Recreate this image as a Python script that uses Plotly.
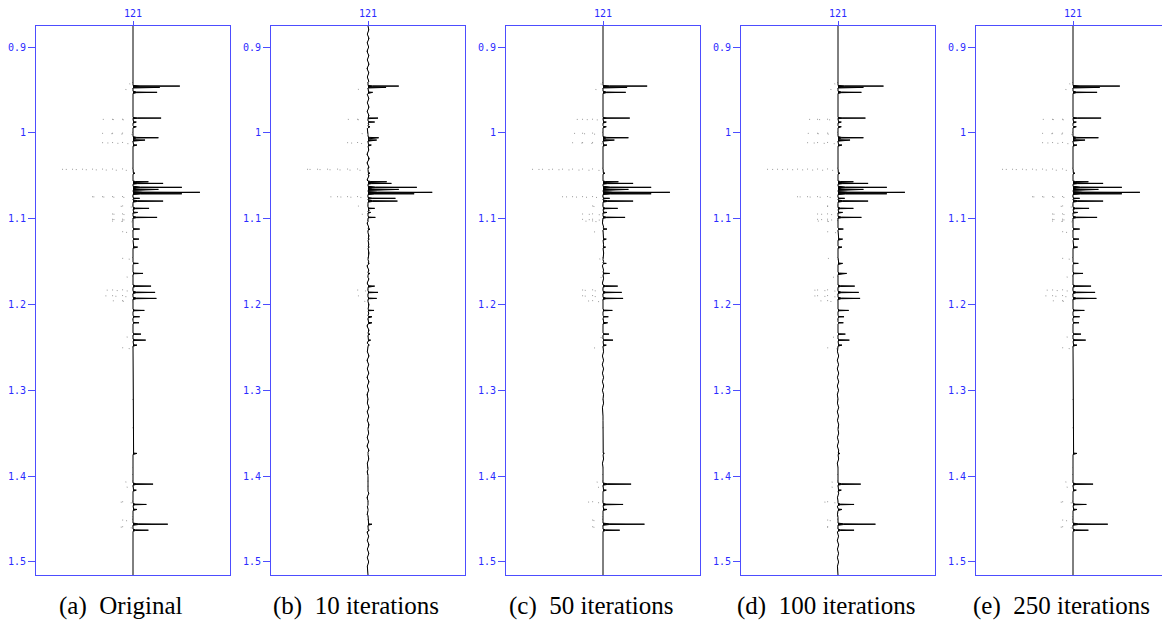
import numpy as np
import plotly.graph_objects as go

# ---------------- data ----------------
spike_times = [
    0.9423, 0.9455, 0.9470, 0.9493, 0.9528, 0.9828, 0.9843, 0.9874, 0.9929, 1.0006,
    1.0057, 1.0084, 1.0115, 1.0142, 1.0425, 1.0469, 1.0570, 1.0589, 1.0635, 1.0659,
    1.0693, 1.0710, 1.0745, 1.0763, 1.0795, 1.0853, 1.0880, 1.0927, 1.0946, 1.0985,
    1.1008, 1.1028, 1.1121, 1.1153, 1.1238, 1.1331, 1.1463, 1.1521, 1.1638, 1.1677,
    1.1786, 1.1832, 1.1859, 1.1899, 1.1929, 1.1957, 1.2069, 1.2143, 1.2182, 1.2213,
    1.2345, 1.2376, 1.2415, 1.2473, 1.2505, 1.3114, 1.3444, 1.3735, 1.3910, 1.3988,
    1.4066, 1.4093, 1.4125, 1.4163, 1.4300, 1.4330, 1.4388, 1.4474, 1.4513, 1.4560,
    1.4591, 1.4630,
]

amp_original = [
    -0.10, 0.70, 0.40, -0.13, 0.36, 0.42, -0.45, 0.05, 0.05, -0.46,
    0.38, 0.18, -0.49, 0.06, -1.10, 0.03, 0.23, 0.45, 0.73, 0.38,
    1.00, 0.73, -0.67, 0.10, 0.45, -0.24, 0.24, 0.07, -0.37, 0.36,
    -0.37, -0.31, 0.10, -0.20, 0.09, 0.07, -0.18, 0.08, 0.15, -0.12,
    0.27, -0.42, 0.33, -0.43, 0.35, -0.30, 0.17, 0.10, -0.06, 0.09,
    0.12, -0.12, 0.19, 0.06, -0.18, -0.05, -0.03, 0.06, -0.07, -0.07,
    -0.13, 0.30, -0.12, 0.05, -0.24, 0.20, 0.06, -0.06, -0.20, 0.52,
    -0.24, 0.23,
]

amp_10 = [
    -0.05, 0.46, 0.27, -0.15, 0.07, 0.15, -0.30, 0.10, 0.03, -0.12,
    0.16, 0.13, -0.35, 0.05, -0.96, 0.03, 0.28, 0.35, 0.73, 0.46,
    0.96, 0.69, -0.58, 0.41, 0.44, -0.15, 0.10, 0.04, -0.12, 0.11,
    -0.08, -0.06, 0.03, -0.04, 0.02, 0.02, -0.03, 0.02, 0.03, -0.04,
    0.10, -0.17, 0.15, -0.15, 0.13, -0.10, 0.09, 0.06, -0.03, 0.06,
    0.03, -0.03, 0.04, 0.02, -0.04, -0.01, -0.01, 0.01, -0.01, -0.01,
    -0.01, 0.01, -0.01, 0.01, -0.01, 0.01, 0.01, -0.01, -0.02, 0.06,
    -0.02, 0.02,
]

amp_50 = [
    -0.09, 0.66, 0.36, -0.13, 0.34, 0.40, -0.42, 0.05, 0.05, -0.44,
    0.38, 0.17, -0.46, 0.06, -1.08, 0.03, 0.23, 0.45, 0.72, 0.38,
    1.00, 0.72, -0.65, 0.10, 0.45, -0.22, 0.22, 0.06, -0.33, 0.33,
    -0.33, -0.28, 0.06, -0.14, 0.05, 0.04, -0.10, 0.05, 0.10, -0.09,
    0.22, -0.36, 0.28, -0.36, 0.30, -0.26, 0.14, 0.08, -0.05, 0.07,
    0.09, -0.09, 0.15, 0.05, -0.14, -0.02, -0.02, 0.02, -0.06, -0.06,
    -0.12, 0.42, -0.11, 0.05, -0.26, 0.30, 0.06, -0.06, -0.22, 0.62,
    -0.22, 0.25,
]

amp_100 = [
    -0.10, 0.68, 0.38, -0.13, 0.35, 0.41, -0.44, 0.05, 0.05, -0.45,
    0.38, 0.18, -0.48, 0.06, -1.09, 0.03, 0.23, 0.45, 0.73, 0.38,
    1.00, 0.73, -0.66, 0.10, 0.45, -0.23, 0.23, 0.07, -0.35, 0.35,
    -0.35, -0.30, 0.08, -0.17, 0.07, 0.06, -0.15, 0.07, 0.13, -0.11,
    0.25, -0.40, 0.31, -0.40, 0.33, -0.28, 0.16, 0.09, -0.06, 0.08,
    0.11, -0.11, 0.17, 0.06, -0.16, -0.03, -0.02, 0.03, -0.07, -0.07,
    -0.12, 0.34, -0.12, 0.05, -0.25, 0.24, 0.06, -0.06, -0.21, 0.56,
    -0.23, 0.24,
]

amp_250 = [
    -0.10, 0.70, 0.40, -0.13, 0.36, 0.42, -0.45, 0.05, 0.05, -0.46,
    0.38, 0.18, -0.49, 0.06, -1.10, 0.03, 0.23, 0.45, 0.73, 0.38,
    1.00, 0.73, -0.67, 0.10, 0.45, -0.24, 0.24, 0.07, -0.37, 0.36,
    -0.37, -0.31, 0.10, -0.20, 0.09, 0.07, -0.18, 0.08, 0.15, -0.12,
    0.27, -0.42, 0.33, -0.43, 0.35, -0.30, 0.17, 0.10, -0.06, 0.09,
    0.12, -0.12, 0.19, 0.06, -0.18, -0.05, -0.03, 0.06, -0.07, -0.07,
    -0.13, 0.30, -0.12, 0.05, -0.24, 0.20, 0.06, -0.06, -0.20, 0.52,
    -0.24, 0.23,
]

# small residual ringing on the baseline (start time, values every 5 ms)
ripple_10_start = 0.880
ripple_10 = [
    0.012, -0.010, 0.015, -0.012, 0.010, -0.015, 0.012, -0.010, 0.015, -0.015,
    0.012, -0.010, 0.012, -0.015, 0.015, -0.010, 0.012, -0.010, 0.015, -0.012,
    0.015, -0.015, 0.012, -0.010, 0.012, -0.015, 0.015, -0.012, 0.012, -0.015,
    0.020, -0.015, 0.015, -0.020, 0.015, -0.015, 0.012, -0.015, 0.015, -0.012,
    0.015, -0.020, 0.020, -0.015, 0.015, -0.015, 0.012, -0.012, 0.015, -0.015,
    0.012, -0.010, 0.015, -0.012, 0.010, -0.015, 0.012, -0.010, 0.015, -0.012,
    0.010, -0.015, 0.012, -0.010, 0.015, -0.015, 0.012, -0.010, 0.010, -0.015,
    0.015, -0.010, 0.010, -0.012, 0.015, -0.010, 0.015, -0.015, 0.010, -0.010,
    0.012, -0.015, 0.015, -0.010, 0.010, -0.015, 0.012, -0.010, 0.015, -0.012,
    0.010, -0.010, 0.015, -0.015, 0.010, -0.012, 0.010, -0.015, 0.015, -0.010,
    0.012, -0.010, 0.015, -0.012, 0.015, -0.015, 0.010, -0.010, 0.012, -0.015,
    0.015, -0.010, 0.010, -0.012, 0.015, -0.010, 0.012, -0.015, 0.010, -0.010,
    0.015, -0.010, 0.012, -0.010, 0.010, -0.010,
]
ripple_50_start = 1.100
ripple_50 = [
    0.008, -0.008, 0.010, -0.008, 0.008, -0.010, 0.008, -0.008, 0.010, -0.008,
    0.008, -0.008, 0.008, -0.010, 0.008, -0.008, 0.0, 0.0, 0.0, 0.0,
    0.0, 0.0, 0.0, 0.0, 0.0, 0.0, 0.0, 0.0, 0.0, 0.0,
    0.0, 0.008, -0.008, 0.008, -0.010, 0.008, -0.008, 0.008, -0.008, 0.010,
    -0.008, 0.008, -0.008, 0.008, -0.008, 0.0, 0.0, 0.0, 0.0, 0.0,
    0.0, 0.0, 0.0, 0.0, 0.008, -0.008, 0.008, -0.008, 0.010, -0.008,
]
ripple_100_start = 1.250
ripple_100 = [
    0.010, -0.008, 0.010, -0.010, 0.008, -0.010, 0.010, -0.008, 0.010, -0.010,
    0.008, -0.010, 0.010, -0.008, 0.010, -0.010, 0.008, -0.008, 0.010, -0.010,
    0.010, -0.008, 0.008, -0.010, 0.010, -0.008, 0.010, -0.010, 0.008, -0.008,
    0.010, -0.010, 0.008, -0.010, 0.010, -0.008, 0.010, -0.010, 0.008, -0.008,
    0.010, -0.008, 0.010, -0.010, 0.008, -0.010, 0.010, -0.008, 0.008, -0.008,
    0.008, -0.008,
]

captions = ["(a)\u00a0 Original", "(b)\u00a0 10 iterations", "(c)\u00a0 50 iterations",
            "(d)\u00a0 100 iterations", "(e)\u00a0 250 iterations"]
trace_label = ["121"]
time_ticks = [0.9, 1.0, 1.1, 1.2, 1.3, 1.4, 1.5]
time_tick_text = ["0.9", "1", "1.1", "1.2", "1.3", "1.4", "1.5"]

panels = [
    (amp_original, None, None),
    (amp_10, ripple_10_start, ripple_10),
    (amp_50, ripple_50_start, ripple_50),
    (amp_100, ripple_100_start, ripple_100),
    (amp_250, None, None),
]

# ---------------- layout constants ----------------
W, H = 1170, 623
PAGE_OFF = 8          # default page body margin of the html page
BOX_W = 194
BOX_X0 = [36 - PAGE_OFF + 235 * i for i in range(5)]
BOX_TOP, BOX_BOT = 26 - PAGE_OFF, 575 - PAGE_OFF
CAP_Y = 606 - PAGE_OFF
CAP_DX = -12          # captions centred under box + tick labels
T_TOP, T_BOT = 0.8755, 1.5152
XR = 1.45
HALF = 0.0013        # half-width of one spike lobe (s)
AXIS_BLUE = "#4d4dff"
TEXT_BLUE = "#2b2bff"

# half-width for each spike, limited by its neighbours
widths = []
for k, ts in enumerate(spike_times):
    w = HALF
    if k > 0:
        w = min(w, (ts - spike_times[k - 1]) / 2)
    if k < len(spike_times) - 1:
        w = min(w, (spike_times[k + 1] - ts) / 2)
    widths.append(w)


def spike_shape(ts, a, w):
    return ([0.0, 0.15 * a, a, 0.15 * a, 0.0],
            [ts - w, ts - 0.3 * w, ts, ts + 0.3 * w, ts + w])


def build_wiggle(amps, r_start, r_vals):
    pts = [(T_TOP, 0.0), (T_BOT, 0.0)]
    if r_vals is not None:
        for k, v in enumerate(r_vals):
            tr = r_start + 0.005 * k
            if min(abs(tr - ts) for ts in spike_times) > 1.5 * HALF:
                pts.append((tr, v))
    for ts, a, w in zip(spike_times, amps, widths):
        sx, sy = spike_shape(ts, max(a, 0.0), w)
        pts += list(zip(sy, sx))
    pts.sort(key=lambda p: p[0])
    ys = [p[0] for p in pts]
    xs = [p[1] for p in pts]
    nx, ny = [], []
    for ts, a, w in zip(spike_times, amps, widths):
        if a < 0:
            sx, sy = spike_shape(ts, a, w)
            nx += sx + [None]
            ny += sy + [None]
    return xs, ys, nx, ny


fig = go.Figure()
for i, (amps, r0, rv) in enumerate(panels):
    xs, ys, nx, ny = build_wiggle(amps, r0, rv)
    xa = "x" if i == 0 else f"x{i+1}"
    ya = "y" if i == 0 else f"y{i+1}"
    fig.add_trace(go.Scatter(x=nx, y=ny, mode="lines", xaxis=xa, yaxis=ya,
                             line=dict(color="#808080", width=0.8, dash="1px,9px"),
                             hoverinfo="skip", showlegend=False))
    fig.add_trace(go.Scatter(x=xs, y=ys, mode="lines", xaxis=xa, yaxis=ya,
                             fill="tozerox", fillcolor="black",
                             line=dict(color="black", width=1),
                             hoverinfo="skip", showlegend=False))

    dom_x = [BOX_X0[i] / W, (BOX_X0[i] + BOX_W) / W]
    dom_y = [(H - BOX_BOT) / H, (H - BOX_TOP) / H]
    fig.layout[f"xaxis{'' if i == 0 else i+1}"] = dict(
        domain=dom_x, range=[-XR, XR], side="top", anchor=ya, automargin=False,
        tickvals=[0], ticktext=trace_label, ticks="outside", ticklen=4,
        tickcolor=AXIS_BLUE, tickfont=dict(family="DejaVu Sans Mono", size=10, color=TEXT_BLUE),
        showline=True, mirror=True, linecolor=AXIS_BLUE, linewidth=1,
        showgrid=False, zeroline=False, fixedrange=True)
    fig.layout[f"yaxis{'' if i == 0 else i+1}"] = dict(
        domain=dom_y, range=[T_BOT, T_TOP], anchor=xa, automargin=False,
        tickvals=time_ticks, ticktext=time_tick_text, ticks="outside", ticklen=7,
        tickcolor=AXIS_BLUE, tickfont=dict(family="DejaVu Sans Mono", size=10, color=TEXT_BLUE),
        showline=True, mirror=True, linecolor=AXIS_BLUE, linewidth=1,
        showgrid=False, zeroline=False, fixedrange=True)
    fig.add_annotation(text=captions[i], xref="paper", yref="paper",
                       x=(BOX_X0[i] + BOX_W / 2 + CAP_DX) / W, y=(H - CAP_Y) / H,
                       xanchor="center", yanchor="middle", showarrow=False,
                       font=dict(family="Liberation Serif", size=25, color="black"))

fig.update_layout(width=W, height=H, margin=dict(l=0, r=0, t=0, b=0, autoexpand=False),
                  paper_bgcolor="white", plot_bgcolor="white", showlegend=False)

fig.write_html("out.html")
